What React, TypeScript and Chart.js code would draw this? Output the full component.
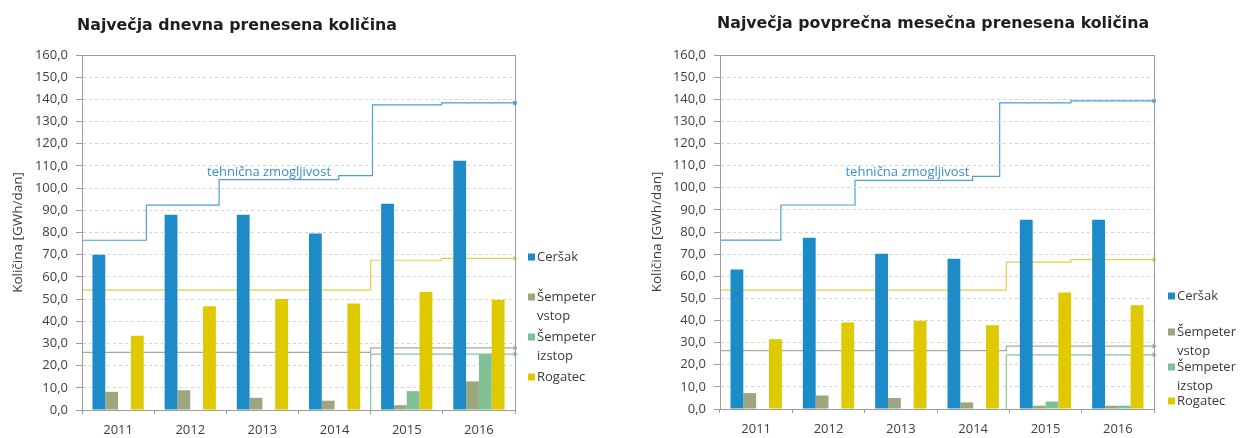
import React, { useEffect, useRef } from "react";
import { Chart, registerables } from "chart.js";

Chart.register(...registerables);

const categories = ["2011", "2012", "2013", "2014", "2015", "2016"];
const seriesNames = ["Ceršak", "Šempeter vstop", "Šempeter izstop", "Rogatec"];
const legendLines = [["Ceršak"], ["Šempeter", "vstop"], ["Šempeter", "izstop"], ["Rogatec"]];

// Chart 1: Največja dnevna prenesena količina
const dailyTitle = "Največja dnevna prenesena količina";
const dailyCersak = [70, 88, 88, 79.5, 93, 112.3];
const dailyVstop = [8.2, 8.9, 5.5, 4.2, 2.2, 12.9];
const dailyIzstop = [null, null, null, null, 8.5, 25.2];
const dailyRogatec = [33.5, 46.8, 50, 48, 53.2, 49.7];

// capacity step lines (month index from Jan 2011, value)
const dailyCapCersakMonths = [0, 10.7, 22.8, 42.7, 48.3, 59.8, 72];
const dailyCapCersakValues = [76.5, 92.3, 103.8, 105.6, 137.5, 138.4, 138.4];
const dailyCapRogatecMonths = [0, 48.0, 59.8, 72];
const dailyCapRogatecValues = [54, 67.5, 68.3, 68.3];
const dailyCapVstopMonths = [0, 48.0, 72];
const dailyCapVstopValues = [26, 28, 28];
const dailyCapIzstopMonths = [48.0, 48.0, 72];
const dailyCapIzstopValues = [0, 25.2, 25.2];

// Chart 2: Največja povprečna mesečna prenesena količina
const monthlyTitle = "Največja povprečna mesečna prenesena količina";
const monthlyCersak = [63.1, 77.4, 70.2, 67.9, 85.5, 85.5];
const monthlyVstop = [7.2, 6.1, 5, 3, 1.5, 1.5];
const monthlyIzstop = [null, null, null, null, 3.4, 1.5];
const monthlyRogatec = [31.5, 39.1, 39.9, 37.9, 52.6, 46.9];

const monthlyCapCersakMonths = [0, 10.1, 22.4, 41.9, 46.4, 58.2, 72];
const monthlyCapCersakValues = [76.3, 92.2, 103.3, 105.1, 138.4, 139.3, 139.3];
const monthlyCapRogatecMonths = [0, 47.5, 58.2, 72];
const monthlyCapRogatecValues = [53.7, 66.4, 67.5, 67.5];
const monthlyCapVstopMonths = [0, 47.5, 72];
const monthlyCapVstopValues = [26.4, 28.4, 28.4];
const monthlyCapIzstopMonths = [47.5, 47.5, 72];
const monthlyCapIzstopValues = [0, 24.5, 24.5];

const yTicksMin = 0;
const yTicksMax = 160;
const yTicksStep = 10;
const monthsMax = 72;
const capacityLabel = "tehnična zmogljivost";
const capacityLabelAt = { month: 31.1, value: 107.2 };
const yAxisTitle = "Količina [GWh/dan]";

const barColors = ["#1d8bc8", "#9da77e", "#80c095", "#dfc900"];
const capColors = ["#4a9fd3", "#a3b08f", "#86c39b", "#e6cf45"];

const FONT = "'Open Sans', 'Noto Sans', sans-serif";

function pts(xs: number[], ys: number[]) {
  return xs.map((x, i) => ({ x, y: ys[i] }));
}

type Cfg = {
  title: string;
  titleX: number;
  titleY: number;
  bars: (number | null)[][];
  caps: { xs: number[]; ys: number[] }[];
  padRight: number;
  yWidth: number;
  xHeight: number;
  yTitlePad: number;
  legendX: number;
  legendYs: number[];
};

function makeLineChart(canvas: HTMLCanvasElement, cfg: Cfg) {
  const datasets = cfg.caps.map((c, i) => {
    const n = c.xs.length;
    return {
      label: seriesNames[i] + " – tehnična zmogljivost",
      data: pts(c.xs, c.ys),
      borderColor: capColors[i],
      backgroundColor: capColors[i],
      borderWidth: 1.2,
      stepped: true,
      fill: false,
      clip: false,
      pointStyle: i === 0 ? "circle" : "triangle",
      pointRotation: 90,
      pointRadius: (ctx: any) => (ctx.dataIndex === n - 1 ? (i === 0 ? 2.2 : 3) : 0),
      pointBorderWidth: 0,
    };
  });
  return new Chart(canvas, {
    type: "line",
    data: { datasets },
    options: {
      animation: false,
      responsive: false,
      layout: { padding: { top: 55, right: cfg.padRight, left: cfg.yWidth, bottom: cfg.xHeight } },
      plugins: { legend: { display: false }, tooltip: { enabled: false }, title: { display: false } },
      scales: {
        x: { type: "linear", min: 0, max: monthsMax, display: false, offset: false },
        y: { type: "linear", min: yTicksMin, max: yTicksMax, display: false },
      },
    },
  } as any);
}

function makeBarChart(canvas: HTMLCanvasElement, cfg: Cfg) {
  const datasets = cfg.bars.map((vals, i) => ({
    label: seriesNames[i],
    data: vals,
    backgroundColor: barColors[i],
    borderWidth: 0,
    categoryPercentage: 0.71,
    barPercentage: 1.0,
  }));

  const framePlugin = {
    id: "frame",
    beforeDatasetsDraw(chart: any) {
      const { ctx, chartArea: a } = chart;
      ctx.save();
      ctx.strokeStyle = "#9c9c9c";
      ctx.lineWidth = 1;
      ctx.strokeRect(Math.round(a.left) + 0.5, Math.round(a.top) + 0.5, Math.round(a.right - a.left), Math.round(a.bottom - a.top));
      ctx.restore();
    },
  };

  const textPlugin = {
    id: "texts",
    afterDraw(chart: any) {
      const { ctx, chartArea: a, scales } = chart;
      ctx.save();
      // title
      ctx.font = "bold 15.8px 'DejaVu Sans', sans-serif";
      ctx.fillStyle = "#1e1e1e";
      ctx.textAlign = "left";
      ctx.textBaseline = "alphabetic";
      ctx.fillText(cfg.title, cfg.titleX, cfg.titleY);
      // capacity label
      ctx.font = "13px " + FONT;
      ctx.fillStyle = "#3a8fca";
      ctx.textAlign = "center";
      ctx.textBaseline = "middle";
      const lx = a.left + ((a.right - a.left) * capacityLabelAt.month) / monthsMax;
      ctx.fillText(capacityLabel, lx, scales.y.getPixelForValue(capacityLabelAt.value));
      // legend
      ctx.textAlign = "left";
      ctx.font = "13px " + FONT;
      legendLines.forEach((lines, i) => {
        const y = cfg.legendYs[i];
        ctx.fillStyle = barColors[i];
        ctx.fillRect(cfg.legendX, y - 3.5, 7, 7);
        ctx.fillStyle = "#3a3a3a";
        lines.forEach((t, j) => ctx.fillText(t, cfg.legendX + 9, y + j * 19));
      });
      ctx.restore();
    },
  };

  return new Chart(canvas, {
    type: "bar",
    data: { labels: categories, datasets },
    options: {
      animation: false,
      responsive: false,
      layout: { padding: { top: 55, right: cfg.padRight, left: 0, bottom: 0 } },
      plugins: { legend: { display: false }, tooltip: { enabled: false }, title: { display: false } },
      scales: {
        x: {
          type: "category",
          position: "bottom",
          offset: true,
          grid: { offset: true, drawOnChartArea: false, drawTicks: true, tickLength: 4, color: "#9c9c9c" },
          border: { display: true, color: "#9c9c9c" },
          ticks: { color: "#404040", font: { family: FONT, size: 13 }, padding: 8 },
          afterFit: (s: any) => { s.height = cfg.xHeight; },
        },
        y: {
          type: "linear",
          min: yTicksMin,
          max: yTicksMax,
          ticks: {
            stepSize: yTicksStep,
            color: "#404040",
            font: { family: FONT, size: 13 },
            padding: 8,
            callback: (v: any) => Number(v).toFixed(1).replace(".", ","),
          },
          grid: { color: "#d4d4d4", tickLength: 6, tickColor: "#9c9c9c" },
          border: { display: true, color: "#9c9c9c", dash: [3, 3] },
          title: { display: true, text: yAxisTitle, color: "#404040", font: { family: FONT, size: 13.5 }, padding: { top: cfg.yTitlePad, bottom: 0 } },
          afterFit: (s: any) => { s.width = cfg.yWidth; },
        },
      },
    },
    plugins: [framePlugin, textPlugin],
  } as any);
}

const leftCfg: Cfg = {
  title: dailyTitle,
  titleX: 77,
  titleY: 30,
  bars: [dailyCersak, dailyVstop, dailyIzstop, dailyRogatec],
  caps: [
    { xs: dailyCapCersakMonths, ys: dailyCapCersakValues },
    { xs: dailyCapVstopMonths, ys: dailyCapVstopValues },
    { xs: dailyCapIzstopMonths, ys: dailyCapIzstopValues },
    { xs: dailyCapRogatecMonths, ys: dailyCapRogatecValues },
  ],
  padRight: 105,
  yWidth: 82,
  xHeight: 28,
  yTitlePad: 10,
  legendX: 528,
  legendYs: [257, 297, 337, 377],
};

const rightCfg: Cfg = {
  title: monthlyTitle,
  titleX: 97,
  titleY: 28,
  bars: [monthlyCersak, monthlyVstop, monthlyIzstop, monthlyRogatec],
  caps: [
    { xs: monthlyCapCersakMonths, ys: monthlyCapCersakValues },
    { xs: monthlyCapVstopMonths, ys: monthlyCapVstopValues },
    { xs: monthlyCapIzstopMonths, ys: monthlyCapIzstopValues },
    { xs: monthlyCapRogatecMonths, ys: monthlyCapRogatecValues },
  ],
  padRight: 87,
  yWidth: 100,
  xHeight: 29,
  yTitlePad: 29,
  legendX: 548,
  legendYs: [296, 332, 367, 401],
};

export default function App() {
  const l1 = useRef<HTMLCanvasElement>(null);
  const b1 = useRef<HTMLCanvasElement>(null);
  const l2 = useRef<HTMLCanvasElement>(null);
  const b2 = useRef<HTMLCanvasElement>(null);

  useEffect(() => {
    document.body.style.margin = "0";
    const charts = [
      makeLineChart(l1.current!, leftCfg),
      makeBarChart(b1.current!, leftCfg),
      makeLineChart(l2.current!, rightCfg),
      makeBarChart(b2.current!, rightCfg),
    ];
    return () => charts.forEach((c) => c.destroy());
  }, []);

  const cs = (left: number): React.CSSProperties => ({ position: "absolute", left, top: 0 });
  return (
    <div style={{ position: "relative", width: 1241, height: 438, background: "#fff" }}>
      <canvas ref={l1} width={620} height={438} style={cs(0)} />
      <canvas ref={b1} width={620} height={438} style={cs(0)} />
      <canvas ref={l2} width={621} height={438} style={cs(620)} />
      <canvas ref={b2} width={621} height={438} style={cs(620)} />
    </div>
  );
}
